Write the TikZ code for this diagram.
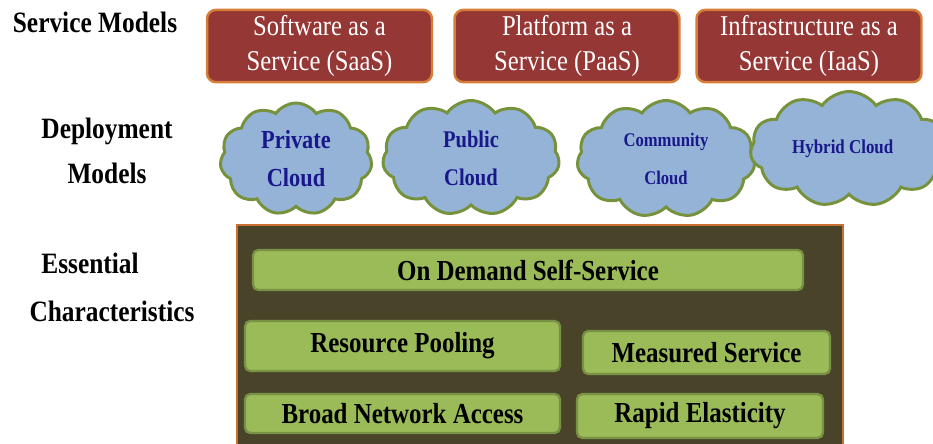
\documentclass[tikz,border=0pt]{standalone}
\usepackage{fontspec}
\setmainfont[FakeStretch=0.86]{Liberation Serif}
\usepackage{tikz}
\usetikzlibrary{shapes.symbols, positioning}
\definecolor{servred}{RGB}{149, 55, 53}
\definecolor{servborder}{RGB}{214, 125, 55}
\definecolor{cloudblue}{RGB}{149, 179, 215}
\definecolor{cloudborder}{RGB}{118, 146, 60}
\definecolor{cloudtext}{RGB}{24, 24, 140}
\definecolor{basebrown}{RGB}{73, 68, 41}
\definecolor{baseborder}{RGB}{200, 112, 50}
\definecolor{charfill}{RGB}{155, 187, 89}
\definecolor{charborder}{RGB}{120, 145, 68}

\begin{document}
\begin{tikzpicture}[
    x=0.02cm, y=-0.02cm,
    layerlabel/.style={font=\fontsize{16.8}{26}\selectfont\bfseries, align=center, inner sep=0pt},
    servbox/.style={rectangle, draw=servborder, fill=servred, line width=1.4pt, rounded corners=5pt, align=center, text=white, font=\fontsize{16.3}{19.5}\selectfont, minimum width=4.5cm, minimum height=1.44cm},
    cloudnode/.style={cloud, cloud puffs=11, cloud puff arc=110, draw=cloudborder, fill=cloudblue, line width=1.7pt, align=center, text=cloudtext, inner sep=0pt},
    charbox/.style={rectangle, draw=charborder, fill=charfill, line width=1.3pt, rounded corners=3pt, font=\fontsize{16.5}{18}\selectfont\bfseries}
]
    \useasboundingbox (0,0) rectangle (933,443);

    % Service models
    \node[layerlabel] (svc_label) at (95,22) {Service Models};
    \node[servbox] (saas) at (319.5,46) {Software as a\\Service (SaaS)};
    \node[servbox] (paas) at (567,46) {Platform as a\\Service (PaaS)};
    \node[servbox] (iaas) at (809,46) {Infrastructure as a\\Service (IaaS)};

    % Deployment models
    \node[layerlabel] (dep_label) at (107,151) {Deployment\\Models};
    \node[cloudnode, aspect=1.36, minimum width=3.04cm, minimum height=2.24cm, font=\fontsize{14.8}{21.5}\selectfont\bfseries] (private) at (296,159) {Private\\Cloud};
    \node[cloudnode, aspect=1.54, minimum width=3.54cm, minimum height=2.3cm, font=\fontsize{13.6}{21.5}\selectfont\bfseries] (public) at (471,158) {Public\\Cloud};
    \node[cloudnode, aspect=1.52, minimum width=3.56cm, minimum height=2.34cm, font=\fontsize{11}{21.5}\selectfont\bfseries] (community) at (666,159) {Community\\Cloud};
    \node[cloudnode, aspect=1.7, minimum width=3.95cm, minimum height=2.3cm, font=\fontsize{11.2}{13}\selectfont\bfseries] (hybrid) at (849,149) {\hspace*{-0.25cm}Hybrid Cloud};

    % Essential characteristics
    \node[layerlabel] (ess_label) at (90,263) {Essential};
    \node[layerlabel] (char_label) at (112,311) {Characteristics};
    \node[rectangle, draw=baseborder, fill=basebrown, line width=1.1pt, minimum width=12.12cm, minimum height=4.44cm] (base) at (540,336) {};
    \node[charbox, minimum width=11cm, minimum height=0.8cm] (demand) at (528,270) {On Demand Self-Service};
    \node[charbox, minimum width=6.3cm, minimum height=1cm] (pooling) at (402.5,346) {Resource Pooling};
    \node[charbox, minimum width=4.94cm, minimum height=0.86cm] (measured) at (706.5,352.5) {Measured Service};
    \node[charbox, minimum width=6.3cm, minimum height=0.78cm] (network) at (402.5,413.5) {Broad Network Access};
    \node[charbox, minimum width=4.92cm, minimum height=0.88cm] (elastic) at (700,416) {Rapid Elasticity};
\end{tikzpicture}
\end{document}
